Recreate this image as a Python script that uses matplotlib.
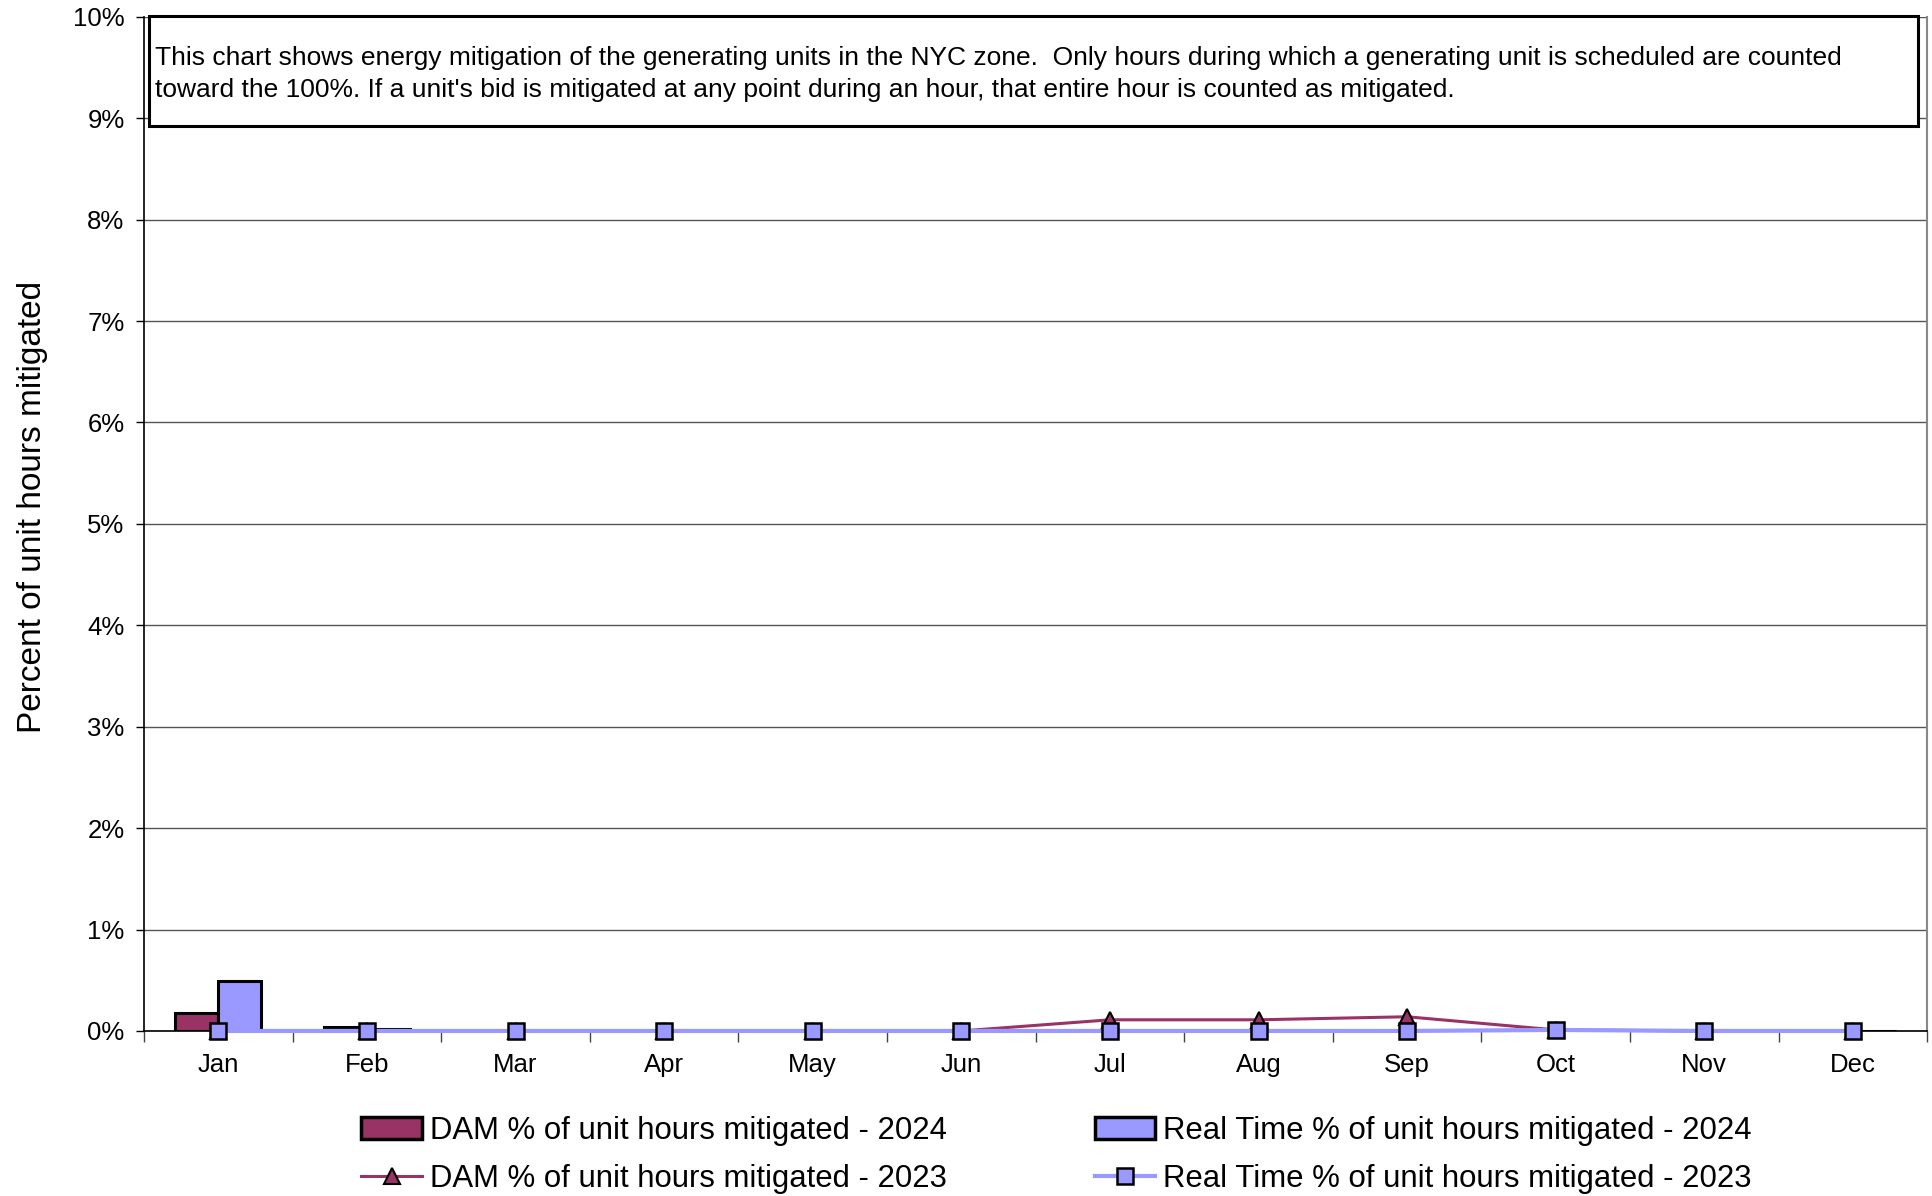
import numpy as np
import matplotlib
matplotlib.use("Agg")
import matplotlib.pyplot as plt
from matplotlib.patches import Rectangle, Patch
from matplotlib.lines import Line2D

plt.rcParams["font.family"] = ["Liberation Sans", "DejaVu Sans"]

# Monthly mitigation shares (percent of scheduled unit hours)
months = ["Jan", "Feb", "Mar", "Apr", "May", "Jun", "Jul", "Aug", "Sep", "Oct", "Nov", "Dec"]
dam_2024 = [0.18, 0.04, 0, 0, 0, 0, 0, 0, 0, 0, 0, 0]
rt_2024 = [0.49, 0.02, 0, 0, 0, 0, 0, 0, 0, 0, 0, 0]
dam_2023 = [0.0, 0.0, 0.0, 0.0, 0.0, 0.0, 0.11, 0.11, 0.14, 0.01, 0.0, 0.0]
rt_2023 = [0.0, 0.0, 0.0, 0.0, 0.0, 0.0, 0.0, 0.0, 0.0, 0.01, 0.0, 0.0]

labels = [
    "DAM % of unit hours mitigated - 2024",
    "Real Time % of unit hours mitigated - 2024",
    "DAM % of unit hours mitigated - 2023",
    "Real Time % of unit hours mitigated - 2023",
]
note = ("This chart shows energy mitigation of the generating units in the NYC zone.  Only hours during which a "
        "generating unit is scheduled are counted\ntoward the 100%. If a unit's bid is mitigated at any point "
        "during an hour, that entire hour is counted as mitigated.")

dam_color = "#993366"
rt_color = "#9999FF"

fig = plt.figure(figsize=(19.33, 11.96), dpi=100)
ax = fig.add_axes([0.0745, 0.138, 0.9225, 0.848])

x = np.arange(len(months))
w = 0.29

ax.bar(x - w / 2, dam_2024, width=w, color=dam_color, edgecolor="black", linewidth=2.2, zorder=3)
ax.bar(x + w / 2, rt_2024, width=w, color=rt_color, edgecolor="black", linewidth=2.2, zorder=3)
ax.plot(x, dam_2023, color=dam_color, lw=2.2, marker="^", markersize=11,
        markerfacecolor=dam_color, markeredgecolor="black", markeredgewidth=1.5,
        zorder=4, clip_on=False)
ax.plot(x, rt_2023, color=rt_color, lw=3, marker="s", markersize=12,
        markerfacecolor=rt_color, markeredgecolor="black", markeredgewidth=1.8,
        zorder=5, clip_on=False)

ax.set_xlim(-0.5, 11.5)
ax.set_ylim(0, 10)
ax.set_yticks(np.arange(0, 11, 1))
ax.set_yticklabels([f"{v}%" for v in range(11)], fontsize=18.5)
ax.yaxis.grid(True, color="#555555", lw=1)
ax.set_axisbelow(True)

ax.set_xticks(x)
ax.set_xticklabels(months, fontsize=18.5)
ax.set_xticks(np.arange(-0.5, 12, 1), minor=True)
ax.tick_params(axis="x", which="major", length=0, pad=16)
ax.tick_params(axis="x", which="minor", length=8, width=1, color="#444444")
ax.tick_params(axis="y", length=6, width=1, pad=8)

ax.spines["top"].set_visible(False)
ax.spines["right"].set_color("#888888")
ax.spines["right"].set_linewidth(1.5)
ax.spines["left"].set_linewidth(1.2)
ax.spines["bottom"].set_linewidth(1.2)

ax.set_ylabel("Percent of unit hours mitigated", fontsize=24, labelpad=18)
ax.yaxis.label.set_y(0.517)

# Explanatory note box at the top of the plot area
ax.add_patch(Rectangle((0.003, 0.8925), 0.992, 0.1085, transform=ax.transAxes,
                       facecolor="white", edgecolor="black", lw=2.2, zorder=6, clip_on=False))
ax.text(0.0062, 0.971, note, transform=ax.transAxes, fontsize=19, va="top", ha="left",
        linespacing=1.42, zorder=7)

handles = [
    Patch(facecolor=dam_color, edgecolor="black", linewidth=2.5),
    Line2D([], [], color=dam_color, lw=2.2, marker="^", markersize=11,
           markerfacecolor=dam_color, markeredgecolor="black", markeredgewidth=1.5),
    Patch(facecolor=rt_color, edgecolor="black", linewidth=2.5),
    Line2D([], [], color=rt_color, lw=3, marker="s", markersize=12,
           markerfacecolor=rt_color, markeredgecolor="black", markeredgewidth=1.8),
]
ordered = [labels[0], labels[2], labels[1], labels[3]]
fig.legend(handles, ordered, ncol=2, loc="lower center", bbox_to_anchor=(0.5465, -0.022),
           frameon=False, fontsize=22.4, handlelength=1.95, handletextpad=0.25,
           columnspacing=4.76, labelspacing=0.6)

fig.savefig("out.png", dpi=100)
